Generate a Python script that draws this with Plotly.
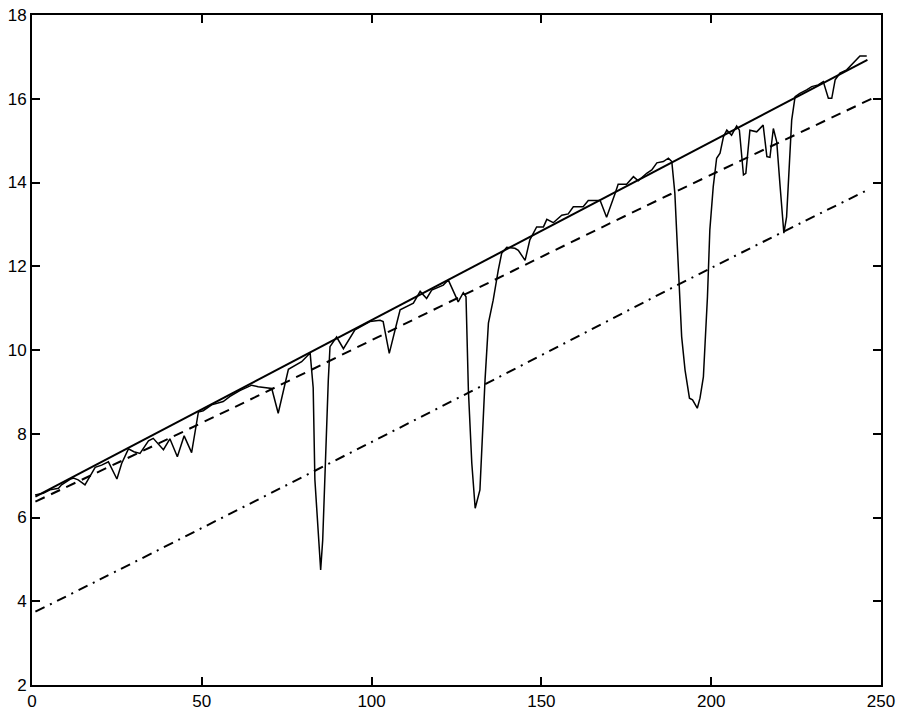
import plotly.graph_objects as go

# Noisy measured series (solid, thin)
noisy_x = [0.9, 3.3, 5.3, 7.8, 8.7, 11.2, 12.2, 13.6, 15.6, 18.6, 20.5, 22.5, 25.0, 26.4,
           28.4, 30.0, 31.8, 34.3, 35.7, 38.7, 40.6, 42.8, 44.8, 47.0, 49.0, 50.4, 52.9,
           56.3, 58.3, 61.2, 64.7, 66.6, 70.6, 72.5, 75.5, 79.4, 81.9, 82.8, 83.3, 84.3,
           85.0, 85.6, 86.3, 87.25, 87.75, 89.7, 91.7, 95.1, 99.5, 102.5, 103.4, 105.2,
           107.4, 108.4, 112.3, 114.3, 116.2, 117.7, 121.1, 122.6, 125.5, 127.0, 127.8,
           128.5, 129.5, 130.5, 131.9, 132.7, 133.4, 134.4, 135.8, 137.3, 138.3, 139.8,
           142.2, 143.2, 145.2, 146.6, 148.6, 150.6, 151.6, 153.5, 156.0, 157.9, 159.4,
           162.3, 163.8, 167.3, 169.2, 171.7, 172.6, 175.1, 177.1, 178.5, 181.0, 182.5,
           184.0, 185.9, 187.4, 188.4, 188.8, 189.3, 189.8, 190.8, 191.3, 192.3, 193.6,
           194.5, 195.9, 196.7, 197.7, 198.2, 198.9, 199.6, 200.6, 201.6, 202.6, 203.6,
           204.6, 206.0, 207.5, 208.3, 209.5, 210.2, 211.4, 213.4, 215.3, 216.4, 217.3,
           218.3, 219.3, 220.3, 221.4, 222.2, 223.7, 224.7, 226.1, 228.1, 229.6, 231.5,
           233.0, 234.5, 235.5, 236.5, 237.9, 239.9, 241.8, 243.8, 245.8]
noisy_y = [6.54, 6.58, 6.66, 6.70, 6.78, 6.91, 6.94, 6.90, 6.78, 7.20, 7.25, 7.33, 6.92, 7.29,
           7.64, 7.57, 7.53, 7.83, 7.89, 7.62, 7.88, 7.45, 7.95, 7.55, 8.52, 8.55, 8.69,
           8.77, 8.89, 9.03, 9.16, 9.12, 9.08, 8.49, 9.54, 9.72, 9.93, 9.10, 6.90, 5.54,
           4.75, 5.46, 7.30, 9.28, 10.08, 10.31, 10.03, 10.48, 10.68, 10.71, 10.68, 9.92,
           10.64, 10.96, 11.12, 11.40, 11.23, 11.43, 11.55, 11.67, 11.15, 11.37, 11.27,
           9.04, 7.30, 6.22, 6.66, 8.09, 9.28, 10.64, 11.19, 11.91, 12.31, 12.45,
           12.43, 12.38, 12.14, 12.63, 12.94, 12.94, 13.12, 13.04, 13.22, 13.25, 13.42,
           13.42, 13.57, 13.57, 13.17, 13.74, 13.96, 13.96, 14.14, 14.04, 14.22, 14.30,
           14.47, 14.50, 14.58, 14.50, 14.06, 13.74, 12.87, 11.27, 10.32, 9.52, 8.85,
           8.81, 8.61, 8.85, 9.36, 10.16, 11.27, 12.87, 13.90, 14.58, 14.70, 15.09,
           15.25, 15.13, 15.35, 15.25, 14.18, 14.22, 15.25, 15.21, 15.37, 14.62, 14.60,
           15.29, 14.97, 13.90, 12.79, 13.18, 15.49, 16.05, 16.13, 16.21, 16.29, 16.33,
           16.41, 16.01, 16.01, 16.45, 16.61, 16.69, 16.85, 17.02, 17.02]

# Straight solid fit line
fit_x = [1, 246]
fit_y = [6.50, 16.93]

# Dashed curve
dash_x = [1, 60, 120, 179, 248]
dash_y = [6.38, 8.65, 11.03, 13.37, 16.03]

# Dash-dot curve
dashdot_x = [1, 20, 129, 200, 246]
dashdot_y = [3.75, 4.52, 9.00, 11.96, 13.82]

x_ticks = [0, 50, 100, 150, 200, 250]
y_ticks = [2, 4, 6, 8, 10, 12, 14, 16, 18]

fig = go.Figure()
fig.add_trace(go.Scatter(x=noisy_x, y=noisy_y, mode="lines",
                         line=dict(color="black", width=1.5), showlegend=False))
fig.add_trace(go.Scatter(x=fit_x, y=fit_y, mode="lines",
                         line=dict(color="black", width=2), showlegend=False))
fig.add_trace(go.Scatter(x=dash_x, y=dash_y, mode="lines",
                         line=dict(color="black", width=2, dash="10px,7px", shape="spline"),
                         showlegend=False))
fig.add_trace(go.Scatter(x=dashdot_x, y=dashdot_y, mode="lines",
                         line=dict(color="black", width=2, dash="10px,6px,2px,6px",
                                   shape="spline"),
                         showlegend=False))

axis_common = dict(showgrid=False, zeroline=False, showline=True, linecolor="black",
                   linewidth=2, mirror="ticks", ticks="inside", ticklen=8,
                   tickwidth=1.5, tickcolor="black", automargin=False,
                   tickfont=dict(family="Liberation Sans, Arial, sans-serif", size=17,
                                 color="black"))
fig.update_xaxes(range=[0, 250], tickvals=x_ticks, ticktext=[str(v) for v in x_ticks],
                 **axis_common)
fig.update_yaxes(range=[2, 18], tickvals=y_ticks, ticktext=[str(v) for v in y_ticks],
                 **axis_common)
fig.update_layout(width=899, height=711, plot_bgcolor="white", paper_bgcolor="white",
                  margin=dict(l=32, r=18, t=15, b=26))
fig.write_html("out.html", config={"displayModeBar": False},
               post_script="document.body.style.margin='0px';"
                           "document.body.style.overflow='hidden';")
